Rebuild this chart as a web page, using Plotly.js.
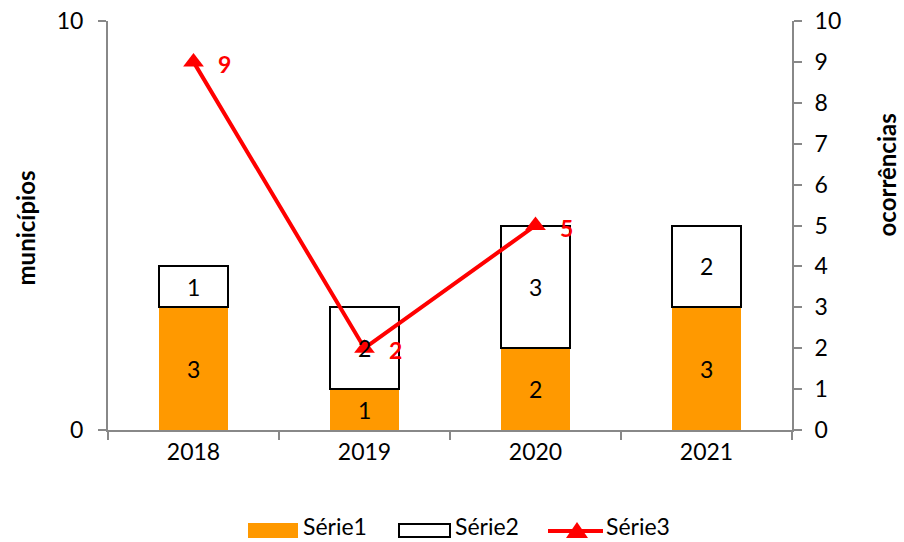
<!DOCTYPE html>
<html>
<head>
<meta charset="utf-8">
<script src="https://cdn.plot.ly/plotly-3.0.1.min.js"></script>
<style>html,body{margin:0;padding:0;background:#fff;}#chart{width:904px;height:542px;}</style>
</head>
<body>
<div id="chart"></div>
<script>
const categories = ["2018", "2019", "2020", "2021"];
const serie1 = [3, 1, 2, 3];
const serie2 = [1, 2, 3, 2];
const serie3 = [9, 2, 5, null];
const seriesNames = ["Série1", "Série2", "Série3"];
const leftTitle = "municípios";
const rightTitle = "ocorrências";

const FONT = "Lato, 'Open Sans', sans-serif";
const FS = 23;

const traces = [
  {
    type: "bar", name: seriesNames[0], x: categories, y: serie1,
    marker: {color: "#FF9900", line: {width: 0}},
    hoverinfo: "skip", showlegend: false
  },
  {
    type: "bar", name: seriesNames[1], x: categories, y: serie2,
    marker: {color: "#FFFFFF", line: {width: 2, color: "#000"}},
    hoverinfo: "skip", showlegend: false
  },
  {
    type: "scatter", mode: "lines+markers", name: seriesNames[2], x: categories, y: serie3,
    yaxis: "y2", line: {color: "#FF0000", width: 4},
    marker: {symbol: "triangle-up", size: 18, color: "#FF0000"},
    connectgaps: false, hoverinfo: "skip", showlegend: false
  }
];

// px -> paper helpers for the custom legend (plot area: x 108..792, y 21..430)
const PX = px => (px - 108) / 684;
const PY = py => (430 - py) / 409;

const annotations = [];
// bar value labels (drawn on top of everything, like the reference)
categories.forEach((c, i) => {
  annotations.push({
    x: i, y: serie1[i] / 2, xref: "x", yref: "y", text: String(serie1[i]),
    showarrow: false, xanchor: "center", yanchor: "middle",
    font: {family: FONT, size: FS, color: "#000"}
  });
  annotations.push({
    x: i, y: serie1[i] + serie2[i] / 2, xref: "x", yref: "y", text: String(serie2[i]),
    showarrow: false, xanchor: "center", yanchor: "middle",
    font: {family: FONT, size: FS, color: "#000"}
  });
});
serie3.forEach((v, i) => {
  if (v !== null) {
    annotations.push({
      x: i, y: v, xref: "x", yref: "y2", text: "<b>" + v + "</b>",
      showarrow: false, xanchor: "center", yanchor: "middle", xshift: 31, yshift: -2,
      font: {family: FONT, size: FS, color: "#FF0000"}
    });
  }
});
annotations.push({
  x: PX(25), y: PY(228.5), xref: "paper", yref: "paper", text: "<b>" + leftTitle + "</b>",
  textangle: -90, showarrow: false, xanchor: "center", yanchor: "middle",
  font: {family: FONT, size: 24, color: "#000"}
});
annotations.push({
  x: PX(886), y: PY(174.5), xref: "paper", yref: "paper", text: "<b>" + rightTitle + "</b>",
  textangle: -90, showarrow: false, xanchor: "center", yanchor: "middle",
  font: {family: FONT, size: 24, color: "#000"}
});
// legend labels
[[304, seriesNames[0]], [456, seriesNames[1]], [607, seriesNames[2]]].forEach(([px, t]) => {
  annotations.push({
    x: PX(px), y: PY(526), xref: "paper", yref: "paper", text: t,
    showarrow: false, xanchor: "left", yanchor: "middle", xshift: -2, borderpad: 0,
    font: {family: FONT, size: FS, color: "#000"}
  });
});

const shapes = [
  {type: "rect", xref: "paper", yref: "paper", x0: PX(248), x1: PX(298), y0: PY(538), y1: PY(523),
   fillcolor: "#FF9900", line: {width: 0}},
  {type: "rect", xref: "paper", yref: "paper", x0: PX(399), x1: PX(450), y0: PY(537), y1: PY(524),
   fillcolor: "#FFFFFF", line: {width: 2, color: "#000"}},
  {type: "line", xref: "paper", yref: "paper", x0: PX(548), x1: PX(603), y0: PY(531), y1: PY(531),
   line: {width: 4, color: "#FF0000"}},
  {type: "path", xref: "paper", yref: "paper",
   path: "M " + PX(566) + "," + PY(538) + " L " + PX(588) + "," + PY(538) + " L " + PX(577) + "," + PY(522) + " Z",
   fillcolor: "#FF0000", line: {width: 0}}
];

const layout = {
  width: 904, height: 542,
  margin: {l: 108, r: 112, t: 21, b: 112},
  paper_bgcolor: "#fff", plot_bgcolor: "#fff",
  font: {family: FONT, size: FS, color: "#000"},
  barmode: "stack", bargap: 0.6,
  showlegend: false,
  xaxis: {
    type: "category", showgrid: false, zeroline: false,
    showline: true, linecolor: "#888", linewidth: 2,
    ticks: "outside", tickson: "boundaries", ticklen: 8, tickcolor: "#888", tickwidth: 2,
    tickfont: {family: FONT, size: FS, color: "#000"}, automargin: false
  },
  yaxis: {
    range: [0, 10], tickvals: [0, 10], showgrid: false, zeroline: false,
    showline: true, linecolor: "#888", linewidth: 2,
    ticks: "outside", ticklen: 8, tickcolor: "#888", tickwidth: 2,
    tickfont: {family: FONT, size: FS, color: "#000"}, ticklabelstandoff: 10, automargin: false
  },
  yaxis2: {
    overlaying: "y", side: "right", range: [0, 10], dtick: 1, tick0: 0,
    showgrid: false, zeroline: false,
    showline: true, linecolor: "#888", linewidth: 2,
    ticks: "outside", ticklen: 8, tickcolor: "#888", tickwidth: 2,
    tickfont: {family: FONT, size: FS, color: "#000"}, ticklabelstandoff: 8, automargin: false
  },
  annotations: annotations,
  shapes: shapes
};

Plotly.newPlot("chart", traces, layout, {displayModeBar: false, staticPlot: true});
</script>
</body>
</html>
